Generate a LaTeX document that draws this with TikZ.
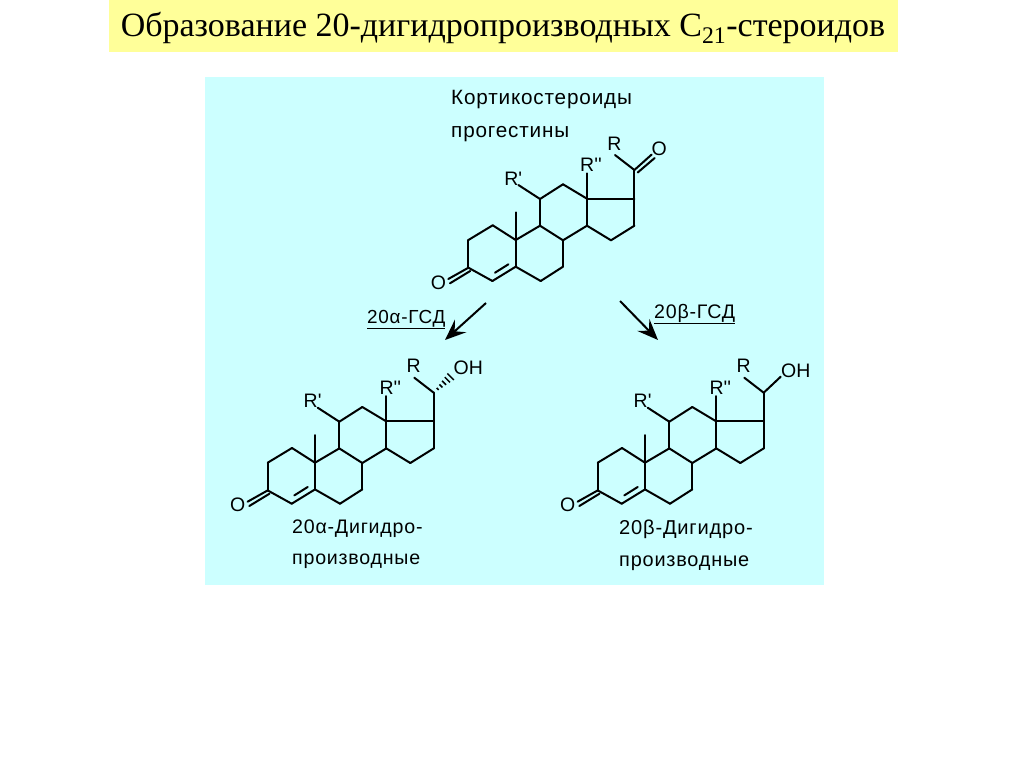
\documentclass[tikz,border=0pt]{standalone}
\usepackage{fontspec}
\setmainfont{Liberation Serif}
\newfontfamily\labfont[LetterSpace=4]{Liberation Sans}
\newfontfamily\atomfont{Liberation Sans}
\usetikzlibrary{arrows.meta,calc}
\definecolor{titlebg}{HTML}{FFFF99}
\definecolor{panelbg}{HTML}{CCFFFF}
\tikzset{
    bond/.style={line width=2pt,line cap=round,line join=round},
    atom/.style={inner sep=0pt,font=\atomfont\fontsize{19.5}{20}\selectfont},
    lab/.style={inner sep=0pt,anchor=base west,font=\labfont\fontsize{#1}{20}\selectfont},
    lab/.default=19.6,
    react/.style={line width=2pt,-{Stealth[length=21pt,width=17pt,inset=8pt]}}
}
% steroid skeleton, the name prefix and the shift come from the scope
\newcommand{\steroid}{
    \foreach \n/\x/\y in {c1/-23/-14.7,c2/-47.3/0,c3/-47.3/27.7,c4/-23.3/41,c5/0/26.7,c6/25/41,c7/47.3/26.7,c8/47.3/0.3,c9/24.3/-14.3,c10/0/0,c11/24.3/-41,c12/47.3/-55.7,c13/71.3/-41.3,c14/71.3/-14.3,c15/95.3/0.3,c16/118.7/-14.3,c17/118.7/-41.3,c20/118.7/-70,me/0/-27.7,rpe/2.7/-55,rppe/71.3/-66.7,re/99.3/-85,ine/-20.7/32.7,inf/-7.3/24.3,oa/-67.4/39,ob/-45.5/31,oc/-65.7/43.3}
    {
        \coordinate (\n) at (\x,\y);
    }
    \foreach \a/\b in {c1/c2,c2/c3,c3/c4,c4/c5,c5/c10,c10/c1,c5/c6,c6/c7,c7/c8,c8/c9,c9/c10,c9/c11,c11/c12,c12/c13,c13/c14,c14/c8,c14/c15,c15/c16,c16/c17,c17/c13,c17/c20,c10/me,c11/rpe,c13/rppe,c20/re,ine/inf,c3/oa,ob/oc}
    {
        \draw[bond](\a)--(\b);
    }
    \node[atom] (oket) at (-77.3,42.3) {O};
    \node[atom] (rp) at (-2.4,-61.7) {R'};
    \node[atom] (rpp) at (75.3,-75) {R''};
    \node[atom] (r) at (98.6,-96.7) {R};
}
\begin{document}
\begin{tikzpicture}[x=1pt,y=-1pt,>=stealth]
\useasboundingbox (0,0) rectangle (1024,768);
\fill[titlebg](109,0) rectangle (898,52);
\fill[panelbg](205,77) rectangle (824,585);
\node[inner sep=0pt,font=\fontsize{34}{34}\selectfont] (title) at (503,28) {Образование 20-дигидропроизводных С\textsubscript{21}-стероидов};

\node[lab=20.7] (cort) at (451,104) {Кортикостероиды};
\node[lab=20.7] (prog) at (451,137) {прогестины};

% ketone
\begin{scope}[shift={(515.7,240)},name prefix=top-]
    \steroid
    \coordinate (oa) at (136,-85.5);
    \coordinate (ob) at (122,-67.5);
    \coordinate (oc) at (139,-82);
    \draw[bond](c20)--(oa);
    \draw[bond](ob)--(oc);
    \node[atom] (o) at (143.6,-91.7) {O};
\end{scope}

% alpha
\begin{scope}[shift={(315,462.7)},name prefix=al-]
    \steroid
    \foreach \t/\w in {.22/1,.4/1.5,.58/2,.76/2.6,.94/3.2}
    {
        \draw[line width=1.5pt]($(c20)+(\t*18,-\t*17)+(-\w,-\w)$)--($(c20)+(\t*18,-\t*17)+(\w,\w)$);
    }
    \node[atom] (oh) at (153.3,-95) {OH};
\end{scope}

% beta
\begin{scope}[shift={(645,462.7)},name prefix=be-]
    \steroid
    \coordinate (ohe) at (135.7,-86);
    \draw[bond](c20)--(ohe);
    \node[atom] (oh) at (150.7,-91.7) {OH};
\end{scope}

\coordinate (ala) at (486,303);
\coordinate (alb) at (445,340);
\coordinate (bea) at (620,301);
\coordinate (beb) at (658,340);
\draw[react](ala)--(alb);
\draw[react](bea)--(beb);
\node[lab=18.9] (gsda) at (367,323) {\underline{20α-ГСД}};
\node[lab=19.6] (gsdb) at (654,318) {\underline{20β-ГСД}};

\node[lab] (dia) at (292,533) {20α-Дигидро-};
\node[lab] (pra) at (292,564) {производные};
\node[lab=20.1] (dib) at (619,534) {20β-Дигидро-};
\node[lab=19.9] (prb) at (619,566) {производные};
\end{tikzpicture}
\end{document}
